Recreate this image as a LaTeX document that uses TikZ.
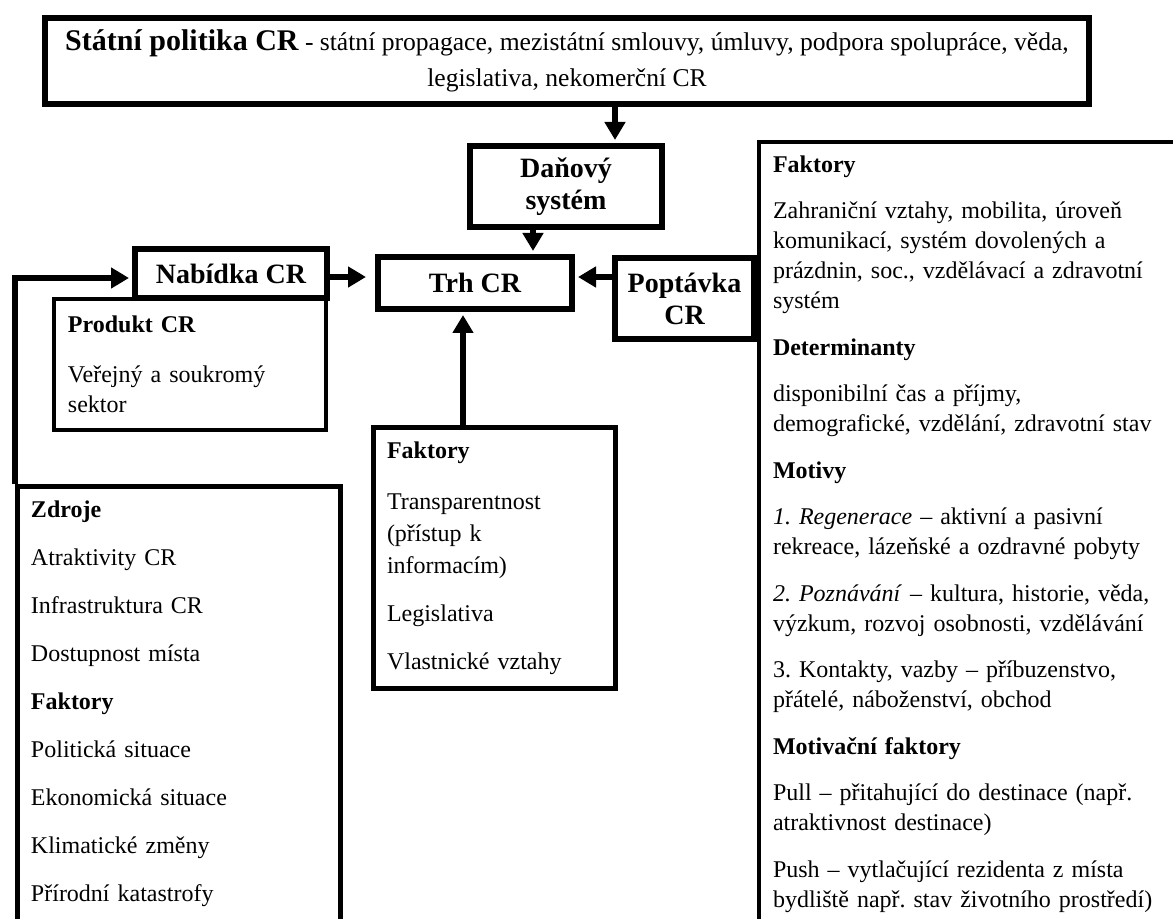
\documentclass[tikz,border=0pt]{standalone}
\usepackage{fontspec}
\setmainfont{Liberation Serif}
\usetikzlibrary{arrows.meta}
\frenchspacing

\begin{document}
\begin{tikzpicture}[x=0.5pt,y=-0.5pt,>={Triangle[length=9pt,width=10pt]},
  box/.style={draw,line width=3pt,fill=white,inner sep=0pt,align=center,font=\fontsize{14}{16}\selectfont\bfseries},
  info/.style={draw,line width=2pt,fill=white,inner sep=7pt,align=left,font=\fontsize{12}{15}\selectfont},
  link/.style={->,line width=3pt,shorten >=1.5pt}]

\useasboundingbox (0,0) rectangle (1173,919);
\clip (0,0) rectangle (1173,919);

% define the boxes
  \node[box,font=\fontsize{12.8}{15}\selectfont,minimum width=522pt,minimum height=43pt] (politika) at (567,61)
{{\fontsize{15}{16}\selectfont\bfseries Státní politika CR} - státní propagace, mezistátní smlouvy, úmluvy, podpora spolupráce, věda,\\[3pt] legislativa, nekomerční CR};
  \node[box,minimum width=96pt,minimum height=40.5pt] (danovy) at (566,186.5)
{Daňový\\systém};
  \node[box,minimum width=97pt,minimum height=26pt] (trh) at (475,283)
{Trh CR};
  \node[info,minimum width=136pt,minimum height=65.5pt,text width=122pt] (produkt) at (190,364.5)
{\textbf{Produkt CR}\\[10pt] Veřejný a soukromý\\ sektor};
  \node[box,minimum width=96pt,minimum height=24.5pt] (nabidka) at (231,273.5)
{Nabídka CR};
  \node[info,anchor=north west,text width=220pt,text depth=400pt] (motivy) at (757,140)
{\textbf{Faktory}\\[8pt]
 Zahraniční vztahy, mobilita, úroveň\\ komunikací, systém dovolených a\\ prázdnin, soc., vzdělávací a zdravotní\\ systém\\[8.25pt]
 \textbf{Determinanty}\\[8.25pt]
 disponibilní čas a příjmy,\\ demografické, vzdělání, zdravotní stav\\[8.25pt]
 \textbf{Motivy}\\[8.25pt]
 \textit{1. Regenerace} – aktivní a pasivní\\ rekreace, lázeňské a ozdravné pobyty\\[8.25pt]
 \textit{2. Poznávání} – kultura, historie, věda,\\ výzkum, rozvoj osobnosti, vzdělávání\\[8.25pt]
 3. Kontakty, vazby – příbuzenstvo,\\ přátelé, náboženství, obchod\\[8.25pt]
 \textbf{Motivační faktory}\\[8.25pt]
 Pull – přitahující do destinace (např.\\ atraktivnost destinace)\\[8.25pt]
 Push – vytlačující rezidenta z místa\\ bydliště např. stav životního prostředí)};
  \node[box,minimum width=69.5pt,minimum height=40.5pt] (poptavka) at (684.5,298.5)
{Poptávka\\CR};
  \node[info,line width=2.5pt,anchor=north west,text width=107pt,font=\fontsize{12}{16}\selectfont] (faktory) at (370.5,425.5)
{\textbf{Faktory}\\[9.5pt] Transparentnost\\ (přístup k\\ informacím)\\[8pt] Legislativa\\[8pt] Vlastnické vztahy};
  \node[info,line width=2.5pt,anchor=north west,text width=147.5pt,text depth=400pt] (zdroje) at (14.5,484.5)
{\textbf{Zdroje}\\[9pt] Atraktivity CR\\[9pt] Infrastruktura CR\\[9pt] Dostupnost místa\\[9pt]
 \textbf{Faktory}\\[9pt] Politická situace\\[9pt] Ekonomická situace\\[9pt] Klimatické změny\\[9pt] Přírodní katastrofy};

% define the links
  \coordinate (vtop) at (615,0);
  \coordinate (vmid) at (533,0);
  \coordinate (vbot) at (463,0);
  \coordinate (hline) at (0,277);
  \path[link] (politika.south -| vtop) edge (danovy.north -| vtop)
        (danovy.south -| vmid) edge (trh.north -| vmid)
        (faktory.north -| vbot) edge (trh.south -| vbot)
        (poptavka.west |- hline) edge (trh.east |- hline)
        (nabidka.east |- hline) edge [shorten >=4.5pt] (trh.west |- hline);
  \draw[link] (zdroje.north west) |- ([yshift=-2.25pt]nabidka.west);

\end{tikzpicture}
\end{document}
